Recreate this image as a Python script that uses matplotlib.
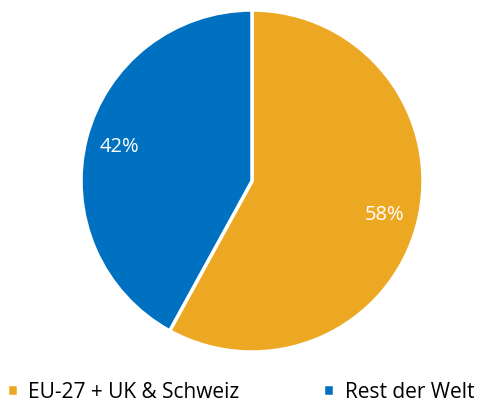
import matplotlib
matplotlib.use("Agg")
import matplotlib.pyplot as plt

labels = ["EU-27 + UK & Schweiz", "Rest der Welt"]
shares = [58, 42]
colors = ["#EDA823", "#0070C0"]

plt.rcParams['font.family'] = ['Open Sans', 'DejaVu Sans']

fig = plt.figure(figsize=(4.81, 4.09), dpi=100)
ax = fig.add_axes([81 / 481, 57 / 409, 342 / 481, 342 / 409])

wedges, _, autotexts = ax.pie(
    shares, colors=colors, startangle=90, counterclock=False,
    autopct='%d%%', pctdistance=0.8,
    wedgeprops=dict(edgecolor='white', linewidth=2.5),
    textprops=dict(color='white', fontsize=14.5))
ax.set_xlim(-1, 1)
ax.set_ylim(-1, 1)
ax.set_aspect('equal')

fig.legend(wedges, labels, loc='lower center', bbox_to_anchor=(0.5, -0.03),
           ncol=2, frameon=False, fontsize=15, handlelength=0.55, handleheight=0.55,
           handletextpad=0.5, columnspacing=4.0)

fig.savefig("out.png", dpi=100)
